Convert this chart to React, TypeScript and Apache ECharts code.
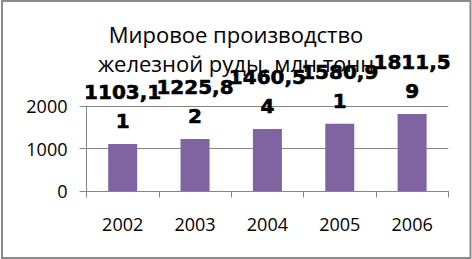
import React, { useEffect, useRef } from "react";
import * as echarts from "echarts";

const categories = ["2002", "2003", "2004", "2005", "2006"];
const values = [1103.11, 1225.82, 1460.54, 1580.91, 1811.59];
const titleLines = ["Мировое производство", "железной руды, млн.тонн"];
const yMax = 2000;
const yInterval = 1000;

export default function App() {
  const ref = useRef<HTMLDivElement>(null);
  useEffect(() => {
    document.body.style.margin = "0";
    const chart = echarts.init(ref.current!, null, { renderer: "svg" });
    chart.setOption({
      animation: false,
      backgroundColor: "#ffffff",
      title: {
        text: titleLines.join("\n"),
        left: 236,
        top: 20,
        padding: 0,
        textAlign: "center",
        textStyle: {
          fontFamily: "Open Sans",
          fontSize: 22,
          fontWeight: "normal",
          color: "#000",
          lineHeight: 28.5,
        },
      },
      graphic: [
        {
          type: "rect",
          shape: { x: 2, y: 1, width: 468.5, height: 257 },
          style: { fill: "none", stroke: "#8a8a8a", lineWidth: 2 },
          z: 100,
        },
      ],
      grid: { left: 86.5, right: 23.7, top: 106, bottom: 68 },
      xAxis: {
        type: "category",
        data: categories,
        axisLine: { show: true, lineStyle: { color: "#868686", width: 1 } },
        axisTick: { show: true, length: 6.5, lineStyle: { color: "#868686" } },
        axisLabel: {
          fontFamily: "Open Sans",
          fontSize: 18,
          color: "#000",
          margin: 24,
        },
      },
      yAxis: {
        type: "value",
        min: 0,
        max: yMax,
        interval: yInterval,
        axisLine: { show: true, lineStyle: { color: "#868686", width: 1 } },
        axisTick: { show: true, length: 7, lineStyle: { color: "#868686" } },
        splitLine: { show: true, lineStyle: { color: "#868686", width: 1 } },
        axisLabel: {
          fontFamily: "Open Sans",
          fontSize: 18,
          color: "#000",
          margin: 19,
          formatter: (v: number) => String(v),
        },
      },
      series: [
        {
          type: "bar",
          data: values,
          barWidth: 29,
          itemStyle: { color: "#8064A2" },
          label: {
            show: true,
            position: "top",
            distance: 9,
            fontFamily: "DejaVu Sans",
            fontWeight: 900,
            fontSize: 20,
            lineHeight: 28.5,
            color: "#000",
            textBorderColor: "#000",
            textBorderWidth: 0.6,
            align: "center",
            formatter: (p: any) => {
              const s = String(p.value).replace(".", ",");
              return s.slice(0, 6) + "\n" + s.slice(6);
            },
          },
        },
      ],
    });
    return () => chart.dispose();
  }, []);
  return (
    <div
      ref={ref}
      style={{ position: "absolute", left: 0, top: 0, width: 472, height: 259 }}
    />
  );
}
